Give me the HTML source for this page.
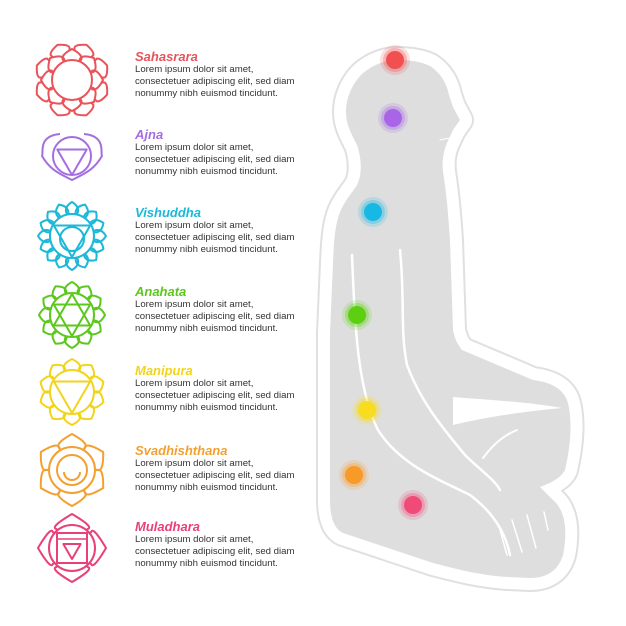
<!DOCTYPE html>
<html><head><meta charset="utf-8"><style>
html,body{margin:0;padding:0;background:#fff;width:626px;height:626px;overflow:hidden}
svg{position:absolute;left:0;top:0}
.t{position:absolute;left:135px;font-family:"Liberation Sans",sans-serif;font-size:9.6px;line-height:12.2px;color:#333;width:170px}
.t b{display:block;font-style:italic;font-size:13px;line-height:15px}
</style></head><body>
<svg id="s" width="626" height="626" viewBox="0 0 626 626">
<defs>
<path id="bp" d="M397,60 C412,60 422,62 430,66 C442,74 447,85 449,95 L453,107 L460,120 L453,130 L447,143 C443,152 442,162 443,172 C446,190 448,210 450,240 L453,330 C455,340 458,345 462,350 L533,380 C550,382 562,388 567,400 C572,415 572,440 565,470 C560,480 545,485 540,487 L553,500 C565,510 568,530 563,555 C558,572 545,578 530,578 L507,577 C480,575 460,570 433,563 L343,533 C333,528 330,515 330,500 L330,333 L333,263 C334,240 335,225 340,212 C345,200 352,193 357,185 C362,175 362,160 357,145 C352,135 346,125 346,112 C346,98 352,84 362,74 C372,65 385,60 397,60 Z"/>
</defs>
<use href="#bp" fill="#dedede" stroke="#e0e0e0" stroke-width="28" stroke-linejoin="round"/>
<use href="#bp" fill="#dedede" stroke="#fff" stroke-width="24" stroke-linejoin="round"/>
<use href="#bp" fill="#dedede"/>
<path d="M453,397 C490,400 530,402 562,408 C530,411 490,416 453,425 Z" fill="#fff"/>
<g fill="none" stroke="#fff" stroke-linecap="round">
<path d="M352,255 C355,330 358,390 378,430 C400,465 440,480 470,495 C490,510 505,530 510,555" stroke-width="2.5"/>
<path d="M400,250 C405,300 400,330 407,365 C420,400 440,425 465,455 C480,470 495,480 500,490" stroke-width="2.5"/>
<path d="M483,458 C495,442 505,435 517,430" stroke-width="2"/>
<path d="M500,530 L507,555 M512,520 L522,552 M527,515 L536,548 M544,512 L548,530" stroke-width="1.5"/>
<path d="M440,140 L450,138" stroke-width="1"/>
</g>
<g id="dots"></g>
<g id="icons"></g>
</svg>
<div class="t" style="top:49px"><b style="color:#e8545a">Sahasrara</b>Lorem ipsum dolor sit amet,<br>consectetuer adipiscing elit, sed diam<br>nonummy nibh euismod tincidunt.</div>
<div class="t" style="top:127px"><b style="color:#a56ee0">Ajna</b>Lorem ipsum dolor sit amet,<br>consectetuer adipiscing elit, sed diam<br>nonummy nibh euismod tincidunt.</div>
<div class="t" style="top:205px"><b style="color:#1cb8d8">Vishuddha</b>Lorem ipsum dolor sit amet,<br>consectetuer adipiscing elit, sed diam<br>nonummy nibh euismod tincidunt.</div>
<div class="t" style="top:284px"><b style="color:#5cc81e">Anahata</b>Lorem ipsum dolor sit amet,<br>consectetuer adipiscing elit, sed diam<br>nonummy nibh euismod tincidunt.</div>
<div class="t" style="top:363px"><b style="color:#f2d41a">Manipura</b>Lorem ipsum dolor sit amet,<br>consectetuer adipiscing elit, sed diam<br>nonummy nibh euismod tincidunt.</div>
<div class="t" style="top:443px"><b style="color:#f4a030">Svadhishthana</b>Lorem ipsum dolor sit amet,<br>consectetuer adipiscing elit, sed diam<br>nonummy nibh euismod tincidunt.</div>
<div class="t" style="top:519px"><b style="color:#e8407a">Muladhara</b>Lorem ipsum dolor sit amet,<br>consectetuer adipiscing elit, sed diam<br>nonummy nibh euismod tincidunt.</div>
<script>
var NS="http://www.w3.org/2000/svg";
function el(p,t,a){var e=document.createElementNS(NS,t);for(var k in a)e.setAttribute(k,a[k]);p.appendChild(e);return e;}
var dots=document.getElementById('dots');
[[395,60,'#f05050'],[393,118,'#a865e8'],[373,212,'#18b8e4'],[357,315,'#5cd010'],[367,410,'#f8dc20'],[354,475,'#f89a28'],[413,505,'#f04a78']].forEach(function(d){
el(dots,'circle',{cx:d[0],cy:d[1],r:15,fill:d[2],opacity:0.18});
el(dots,'circle',{cx:d[0],cy:d[1],r:12,fill:d[2],opacity:0.3});
el(dots,'circle',{cx:d[0],cy:d[1],r:9,fill:d[2]});
});
var ic=document.getElementById('icons');
function petals(g,cx,cy,n,r1,r2,w,off,c){
 for(var i=0;i<n;i++){var a=(i/n)*2*Math.PI+(off||0)-Math.PI/2;var d=w/r1;
 var x1=cx+r1*Math.cos(a-d),y1=cy+r1*Math.sin(a-d),x2=cx+r1*Math.cos(a+d),y2=cy+r1*Math.sin(a+d);
 var tx=cx+r2*Math.cos(a),ty=cy+r2*Math.sin(a);
 var m=(r1+r2)/2+2;var c1x=cx+m*Math.cos(a-d*1.3),c1y=cy+m*Math.sin(a-d*1.3),c2x=cx+m*Math.cos(a+d*1.3),c2y=cy+m*Math.sin(a+d*1.3);
 el(g,'path',{d:'M'+x1+','+y1+' Q'+c1x+','+c1y+' '+tx+','+ty+' Q'+c2x+','+c2y+' '+x2+','+y2,fill:'none',stroke:c,'stroke-width':2});}
}
function tri(g,cx,cy,r,down,c){var p=[];for(var i=0;i<3;i++){var a=(down?Math.PI/2:-Math.PI/2)+i*2*Math.PI/3;p.push((cx+r*Math.cos(a))+','+(cy+r*Math.sin(a)));}
el(g,'polygon',{points:p.join(' '),fill:'none',stroke:c,'stroke-width':2,'stroke-linejoin':'round'});}
var X=72;
(function(){var c='#e8545a',y=80;petals(ic,X,y,8,30,38,9,Math.PI/8,c);petals(ic,X,y,8,20,31,8,0,c);el(ic,'circle',{cx:X,cy:y,r:20,fill:'none',stroke:c,'stroke-width':2});})();
(function(){var c='#a56ee0',y=156;el(ic,'path',{d:'M'+(X-12)+','+(y-22)+' C'+(X-35)+','+(y-20)+' '+(X-28)+','+(y-2)+' '+(X-30)+','+y+' C'+(X-22)+','+(y+14)+' '+(X-12)+','+(y+18)+' '+X+','+(y+24)+' C'+(X+12)+','+(y+18)+' '+(X+22)+','+(y+14)+' '+(X+30)+','+y+' C'+(X+28)+','+(y-2)+' '+(X+35)+','+(y-20)+' '+(X+12)+','+(y-22),fill:'none',stroke:c,'stroke-width':2});
el(ic,'circle',{cx:X,cy:y,r:19,fill:'none',stroke:c,'stroke-width':2});tri(ic,X,y+2,17,true,c);})();
(function(){var c='#1cb8d8',y=236;petals(ic,X,y,16,22,34,5,0,c);el(ic,'circle',{cx:X,cy:y,r:22,fill:'none',stroke:c,'stroke-width':2});el(ic,'circle',{cx:X,cy:y+3,r:12,fill:'none',stroke:c,'stroke-width':2});tri(ic,X,y,21,true,c);})();
(function(){var c='#5cc81e',y=315;petals(ic,X,y,12,22,33,6,0,c);el(ic,'circle',{cx:X,cy:y,r:22,fill:'none',stroke:c,'stroke-width':2});tri(ic,X,y,21,false,c);tri(ic,X,y,21,true,c);})();
(function(){var c='#f2d41a',y=392;petals(ic,X,y,10,22,33,7,0,c);el(ic,'circle',{cx:X,cy:y,r:22,fill:'none',stroke:c,'stroke-width':2});tri(ic,X,y,21,true,c);})();
(function(){var c='#f4a030',y=470;petals(ic,X,y,6,24,36,12,0,c);el(ic,'circle',{cx:X,cy:y,r:23,fill:'none',stroke:c,'stroke-width':2});el(ic,'circle',{cx:X,cy:y,r:15,fill:'none',stroke:c,'stroke-width':2});el(ic,'path',{d:'M'+(X-8)+','+(y+2)+' A8,8 0 1 0 '+(X+8)+','+(y+2),fill:'none',stroke:c,'stroke-width':2});})();
(function(){var c='#e8407a',y=548;petals(ic,X,y,4,24,34,16,0,c);el(ic,'circle',{cx:X,cy:y,r:23,fill:'#fff',stroke:c,'stroke-width':2});el(ic,'rect',{x:X-15,y:y-15,width:30,height:30,fill:'none',stroke:c,'stroke-width':2});tri(ic,X,y+1,10,true,c);el(ic,'line',{x1:X-15,y1:y-9,x2:X+15,y2:y-9,stroke:c,'stroke-width':1.5});})();
</script>
</body></html>
